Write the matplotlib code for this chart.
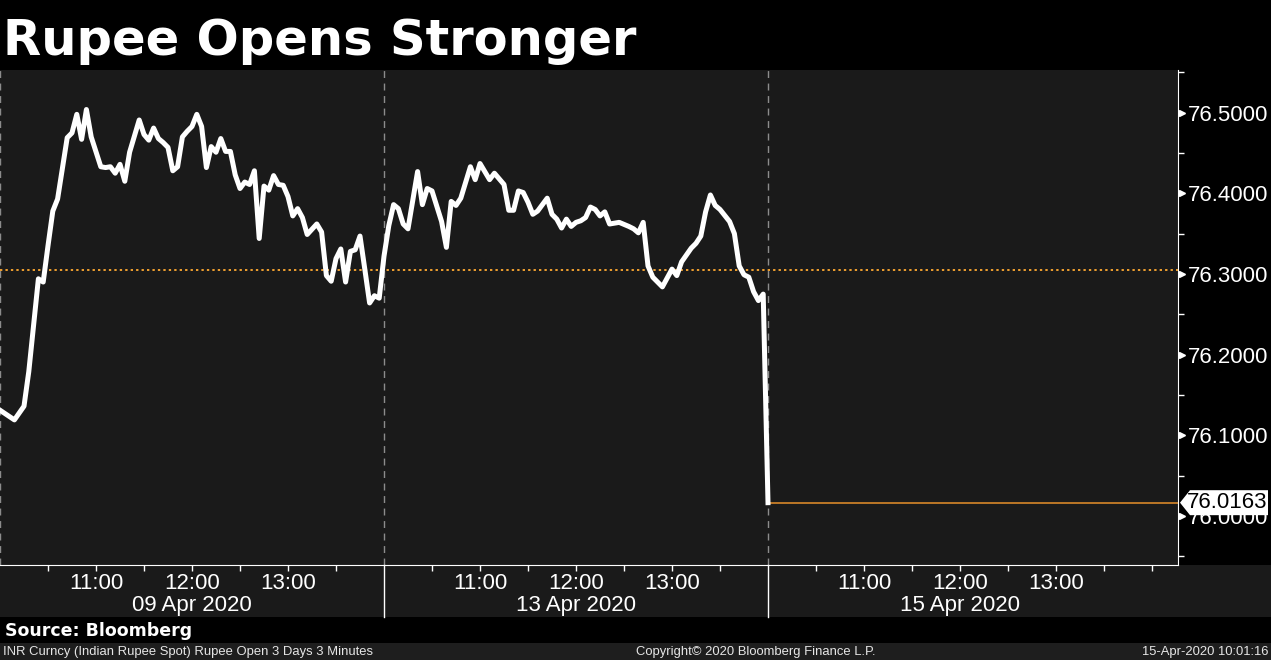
import numpy as np
import matplotlib.pyplot as plt
from matplotlib.patches import Rectangle, Polygon
from matplotlib.ticker import MultipleLocator, FormatStrFormatter

# day labels
days = ["09 Apr 2020", "13 Apr 2020", "15 Apr 2020"]

# INR spot, 3 minute bars
apr09_times = ["10:00", "10:09", "10:15", "10:18", "10:24", "10:27", "10:30", "10:33", "10:36",
               "10:42", "10:45", "10:48", "10:51", "10:54", "10:57", "11:03", "11:06", "11:09",
               "11:12", "11:15", "11:18", "11:21", "11:27", "11:30", "11:33", "11:36", "11:39",
               "11:42", "11:45", "11:48", "11:51", "11:54", "11:57", "12:00", "12:03", "12:06",
               "12:09", "12:12", "12:15", "12:18", "12:21", "12:24", "12:27", "12:30", "12:33",
               "12:36", "12:39", "12:42", "12:45", "12:48", "12:51", "12:54", "12:57", "13:00",
               "13:03", "13:06", "13:09", "13:12", "13:18", "13:21", "13:24", "13:27", "13:30",
               "13:33", "13:36", "13:39", "13:42", "13:45", "13:48", "13:51", "13:54", "13:57"]
apr09_vals = [76.131, 76.119, 76.136, 76.179, 76.294, 76.290, 76.335, 76.378, 76.393,
              76.469, 76.475, 76.498, 76.467, 76.504, 76.470, 76.433, 76.432, 76.433,
              76.425, 76.436, 76.415, 76.451, 76.491, 76.473, 76.466, 76.481, 76.468,
              76.463, 76.457, 76.428, 76.433, 76.470, 76.477, 76.483, 76.498, 76.483,
              76.432, 76.458, 76.451, 76.468, 76.452, 76.452, 76.423, 76.406, 76.414,
              76.411, 76.428, 76.344, 76.409, 76.404, 76.422, 76.411, 76.410, 76.396,
              76.372, 76.381, 76.370, 76.349, 76.362, 76.352, 76.298, 76.291, 76.319,
              76.331, 76.290, 76.328, 76.330, 76.347, 76.306, 76.264, 76.273, 76.270]

apr13_times = ["10:00", "10:03", "10:06", "10:09", "10:12", "10:15", "10:21", "10:24", "10:27",
               "10:30", "10:36", "10:39", "10:42", "10:45", "10:48", "10:54", "10:57", "11:00",
               "11:03", "11:06", "11:09", "11:12", "11:15", "11:18", "11:21", "11:24", "11:27",
               "11:30", "11:33", "11:36", "11:42", "11:45", "11:48", "11:51", "11:54", "11:57",
               "12:00", "12:03", "12:06", "12:09", "12:12", "12:15", "12:18", "12:21", "12:27",
               "12:33", "12:36", "12:39", "12:42", "12:45", "12:48", "12:51", "12:54", "13:00",
               "13:03", "13:06", "13:12", "13:15", "13:18", "13:21", "13:24", "13:27", "13:30",
               "13:36", "13:39", "13:42", "13:45", "13:48", "13:51", "13:54", "13:57"]
apr13_vals = [76.322, 76.360, 76.386, 76.381, 76.362, 76.356, 76.427, 76.386, 76.406,
              76.403, 76.365, 76.333, 76.390, 76.385, 76.394, 76.433, 76.417, 76.437,
              76.427, 76.417, 76.425, 76.418, 76.411, 76.379, 76.379, 76.403, 76.401,
              76.389, 76.374, 76.378, 76.394, 76.374, 76.368, 76.357, 76.368, 76.359,
              76.364, 76.366, 76.370, 76.383, 76.380, 76.372, 76.377, 76.362, 76.364,
              76.359, 76.356, 76.351, 76.364, 76.310, 76.296, 76.290, 76.284, 76.306,
              76.298, 76.315, 76.332, 76.338, 76.347, 76.377, 76.398, 76.385, 76.380,
              76.365, 76.350, 76.310, 76.299, 76.296, 76.278, 76.267, 76.275]

apr15_times = ["10:00"]
apr15_vals = [76.0163]

ref_level = 76.305
last_price = 76.0163


def to_x(day, t):
  h, m = t.split(":")
  return day * 4 + (int(h) - 10) + int(m) / 60.0


def main():

  xs, ys = [], []
  for d, (tt, vv) in enumerate([(apr09_times, apr09_vals), (apr13_times, apr13_vals),
                                (apr15_times, apr15_vals)]):
    xs += [to_x(d, t) for t in tt]
    ys += vv

  fig = plt.figure(figsize=(12.71, 6.60), dpi=100, facecolor="black")
  ax = fig.add_axes([0, 1 - 565/660, 1178/1271, 495/660])
  ax.set_facecolor("#1a1a1a")

  # bands behind the axes
  fig.add_artist(Rectangle((0, 1 - 617/660), 1, 52/660, transform=fig.transFigure,
                           facecolor="#1a1a1a", edgecolor="none", zorder=-5))
  fig.add_artist(Rectangle((0, 0), 1, 17/660, transform=fig.transFigure,
                           facecolor="#1e1e1e", edgecolor="none", zorder=-5))

  ax.set_xlim(0, 1178/96)
  ax.set_ylim(75.939, 76.553)

  # day separators
  for d in range(3):
    ax.axvline(d * 4, color="#8c8c8c", lw=1, ls=(0, (5, 4)), zorder=1)
  for d in (1, 2):
    ax.plot([d * 4, d * 4], [0, -0.106], color="white", lw=1,
            transform=ax.get_xaxis_transform(), clip_on=False)

  ax.axhline(ref_level, color="#f0a030", lw=1.4, ls=(0, (1.2, 1.6)), zorder=2)
  ax.plot([xs[-1], ax.get_xlim()[1]], [last_price, last_price], color="#e8902a", lw=1.1, zorder=2)

  ax.plot(xs, ys, color="white", lw=3.6, solid_joinstyle="round", zorder=3)

  # x axis
  ticks, labels = [], []
  for d in range(3):
    for k in range(1, 8):
      ticks.append(d * 4 + k * 0.5)
      labels.append(f"{10 + k // 2}:00" if k % 2 == 0 else "")
  ticks.append(12.0)
  labels.append("")
  ax.set_xticks(ticks)
  ax.set_xticklabels(labels)
  ax.tick_params(axis="x", colors="white", length=4, width=1, pad=2, labelsize=16)
  for lab in ax.get_xticklabels():
    lab.set_family("Liberation Sans")

  for d, name in enumerate(days):
    ax.text(d * 4 + 2, -0.081, name, transform=ax.get_xaxis_transform(), ha="center",
            va="center", color="white", fontsize=16, family="Liberation Sans")

  # y axis on the right
  ax.yaxis.tick_right()
  ax.yaxis.set_major_locator(MultipleLocator(0.1))
  ax.yaxis.set_minor_locator(MultipleLocator(0.05))
  ax.yaxis.set_major_formatter(FormatStrFormatter("%.4f"))
  ax.tick_params(axis="y", which="major", length=0, pad=7, colors="white", labelsize=16)
  ax.tick_params(axis="y", which="minor", length=4, width=1, colors="white")
  for lab in ax.get_yticklabels():
    lab.set_family("Liberation Sans")
  yt = [v for v in ax.get_yticks() if 75.939 < v < 76.553]
  ax.plot(np.full(len(yt), 1.0035), yt, ls="none", marker=">", ms=4.5, color="white",
          transform=ax.get_yaxis_transform(), clip_on=False)

  for s in ["left", "top"]:
    ax.spines[s].set_visible(False)
  ax.spines["right"].set_color("white")
  ax.spines["bottom"].set_color("white")

  # last price tag
  h = 0.0155
  tag = Polygon([(1.0017, last_price), (1.0102, last_price + h), (1.0764, last_price + h),
                 (1.0764, last_price - h), (1.0102, last_price - h)], closed=True,
                facecolor="white", edgecolor="none", transform=ax.get_yaxis_transform(),
                clip_on=False, zorder=10)
  ax.add_patch(tag)
  ax.text(1.0076, last_price, f"{last_price:.4f}", transform=ax.get_yaxis_transform(),
          ha="left", va="center", color="black", fontsize=16, family="Liberation Sans", zorder=11)

  # titles and footer
  fig.text(0.002, 1 - 55/660, "Rupee Opens Stronger", color="white", fontsize=35.7,
           weight="bold", family="DejaVu Sans", va="baseline", ha="left")
  fig.text(0.004, 1 - 636/660, "Source: Bloomberg", color="white", fontsize=12.5,
           weight="bold", family="DejaVu Sans", va="baseline", ha="left")
  fig.text(0.002, 0.007, "INR Curncy (Indian Rupee Spot) Rupee Open 3 Days 3 Minutes",
           color="#e6e6e6", fontsize=9.4, family="Liberation Sans", va="baseline", ha="left")
  fig.text(756/1271, 0.007, "Copyright\u00a9 2020 Bloomberg Finance L.P.",
           color="#e6e6e6", fontsize=9.4, family="Liberation Sans", va="baseline", ha="center")
  fig.text(0.998, 0.007, "15-Apr-2020 10:01:16", color="#e6e6e6", fontsize=9.4,
           family="Liberation Sans", va="baseline", ha="right")

  plt.savefig("out.png", dpi=100, facecolor="black")


if __name__ == '__main__':
  main()
